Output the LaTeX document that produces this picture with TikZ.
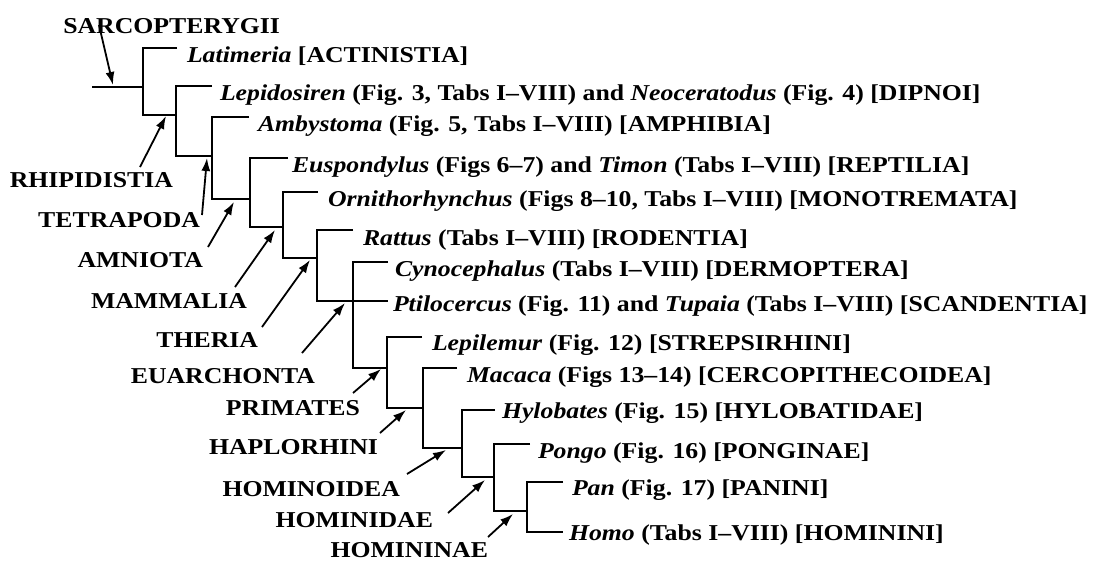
\documentclass[tikz,border=0pt]{standalone}
\usepackage{fontspec}
\setmainfont{Liberation Serif}[FakeStretch=1.135]
\usetikzlibrary{arrows.meta}
\begin{document}
\begin{tikzpicture}[x=1pt,y=-1pt,
  tree/.style={line width=2pt},
  txt/.style={inner sep=0pt, outer sep=0pt, font=\bfseries\fontsize{22.7}{24}\selectfont},
  leaf/.style={txt, anchor=base west},
  clade/.style={txt, anchor=base east},
  pointer/.style={line width=1.8pt, -{Latex[length=13pt,width=9pt]}}]
\useasboundingbox (0,0) rectangle (1097,562);
% internal nodes: top and bottom of each vertical
\coordinate (root) at (92,87);
\coordinate (r1) at (143,87);
\coordinate (t1) at (143,48);   \coordinate (b1) at (143,115);
\coordinate (t2) at (176,86);   \coordinate (b2) at (176,156);
\coordinate (t3) at (212,117);  \coordinate (b3) at (212,199);
\coordinate (t4) at (250,158);  \coordinate (b4) at (250,227);
\coordinate (t5) at (283,192);  \coordinate (b5) at (283,258);
\coordinate (t6) at (317,230);  \coordinate (b6) at (317,301);
\coordinate (t7) at (353,262);  \coordinate (b7) at (353,368);
\coordinate (t8) at (387,337);  \coordinate (b8) at (387,408);
\coordinate (t9) at (423,368);  \coordinate (b9) at (423,448);
\coordinate (t10) at (462,410); \coordinate (b10) at (462,477);
\coordinate (t11) at (494,444); \coordinate (b11) at (494,511);
\coordinate (t12) at (527,482); \coordinate (b12) at (527,532);
% leaf branch ends
\coordinate (e1) at (177,48);
\coordinate (e2) at (212,86);
\coordinate (e3) at (249,117);
\coordinate (e4) at (288,158);
\coordinate (e5) at (318,192);
\coordinate (e6) at (353,230);
\coordinate (e7) at (388,262);
\coordinate (e8) at (388,301);
\coordinate (e9) at (422,337);
\coordinate (e10) at (457,368);
\coordinate (e11) at (495,410);
\coordinate (e12) at (530,444);
\coordinate (e13) at (563,482);
\coordinate (e14) at (563,532);
% tree
\draw[tree] (root) -- (r1);
\draw[tree] (e1) -- (t1) -- (b1) -- (b1 -| t2);
\draw[tree] (e2) -- (t2) -- (b2) -- (b2 -| t3);
\draw[tree] (e3) -- (t3) -- (b3) -- (b3 -| t4);
\draw[tree] (e4) -- (t4) -- (b4) -- (b4 -| t5);
\draw[tree] (e5) -- (t5) -- (b5) -- (b5 -| t6);
\draw[tree] (e6) -- (t6) -- (b6) -- (e8);
\draw[tree] (e7) -- (t7) -- (b7) -- (b7 -| t8);
\draw[tree] (e9) -- (t8) -- (b8) -- (b8 -| t9);
\draw[tree] (e10) -- (t9) -- (b9) -- (b9 -| t10);
\draw[tree] (e11) -- (t10) -- (b10) -- (b10 -| t11);
\draw[tree] (e12) -- (t11) -- (b11) -- (b11 -| t12);
\draw[tree] (e13) -- (t12) -- (b12) -- (e14);
% leaves
\node[leaf] (L1) at (187,62) {\textit{Latimeria} [ACTINISTIA]};
\node[leaf] (L2) at (220,100) {\textit{Lepidosiren} (Fig. 3, Tabs I–VIII) and \textit{Neoceratodus} (Fig. 4) [DIPNOI]};
\node[leaf] (L3) at (258,131) {\textit{Ambystoma} (Fig. 5, Tabs I–VIII) [AMPHIBIA]};
\node[leaf] (L4) at (292,172) {\textit{Euspondylus} (Figs 6–7) and \textit{Timon} (Tabs I–VIII) [REPTILIA]};
\node[leaf] (L5) at (328,206) {\textit{Ornithorhynchus} (Figs 8–10, Tabs I–VIII) [MONOTREMATA]};
\node[leaf] (L6) at (363,245) {\textit{Rattus} (Tabs I–VIII) [RODENTIA]};
\node[leaf] (L7) at (395,276) {\textit{Cynocephalus} (Tabs I–VIII) [DERMOPTERA]};
\node[leaf] (L8) at (393,311) {\textit{Ptilocercus} (Fig. 11) and \textit{Tupaia} (Tabs I–VIII) [SCANDENTIA]};
\node[leaf] (L9) at (432,350) {\textit{Lepilemur} (Fig. 12) [STREPSIRHINI]};
\node[leaf] (L10) at (467,382) {\textit{Macaca} (Figs 13–14) [CERCOPITHECOIDEA]};
\node[leaf] (L11) at (502,418) {\textit{Hylobates} (Fig. 15) [HYLOBATIDAE]};
\node[leaf] (L12) at (538,458) {\textit{Pongo} (Fig. 16) [PONGINAE]};
\node[leaf] (L13) at (572,495) {\textit{Pan} (Fig. 17) [PANINI]};
\node[leaf] (L14) at (569,540) {\textit{Homo} (Tabs I–VIII) [HOMININI]};
% clade labels
\node[clade] (C1) at (280,33) {SARCOPTERYGII};
\node[clade] (C2) at (173,187) {RHIPIDISTIA};
\node[clade] (C3) at (200,227) {TETRAPODA};
\node[clade] (C4) at (203,267) {AMNIOTA};
\node[clade] (C5) at (247,308) {MAMMALIA};
\node[clade] (C6) at (258,347) {THERIA};
\node[clade] (C7) at (315,383) {EUARCHONTA};
\node[clade] (C8) at (360,415) {PRIMATES};
\node[clade] (C9) at (378,454) {HAPLORHINI};
\node[clade] (C10) at (400,496) {HOMINOIDEA};
\node[clade] (C11) at (433,527) {HOMINIDAE};
\node[clade] (C12) at (488,557) {HOMININAE};
% arrow starts and tips
\coordinate (s1) at (99,25);   \coordinate (p1) at (113,85);
\coordinate (s2) at (140,167); \coordinate (p2) at (166,116);
\coordinate (s3) at (202,215); \coordinate (p3) at (207,158);
\coordinate (s4) at (208,247); \coordinate (p4) at (234,202);
\coordinate (s5) at (235,287); \coordinate (p5) at (275,230);
\coordinate (s6) at (262,327); \coordinate (p6) at (310,260);
\coordinate (s7) at (302,353); \coordinate (p7) at (345,303);
\coordinate (s8) at (353,393); \coordinate (p8) at (381,369);
\coordinate (s9) at (380,433); \coordinate (p9) at (406,410);
\coordinate (s10) at (407,474); \coordinate (p10) at (446,450);
\coordinate (s11) at (448,513); \coordinate (p11) at (485,480);
\coordinate (s12) at (488,537); \coordinate (p12) at (513,514);
\foreach \i in {1,...,12} \draw[pointer] (s\i) -- (p\i);
\end{tikzpicture}
\end{document}
